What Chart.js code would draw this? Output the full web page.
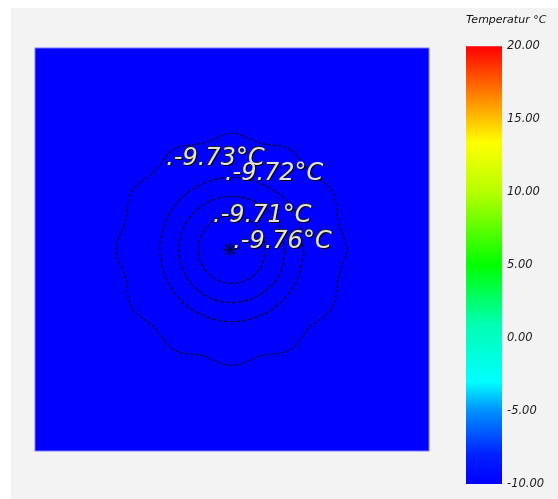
<!DOCTYPE html>
<html>
<head>
<meta charset="utf-8">
<script src="https://cdn.jsdelivr.net/npm/chart.js@4/dist/chart.umd.min.js"></script>
<style>
  html, body { margin: 0; padding: 0; background: #ffffff; width: 558px; height: 499px; overflow: hidden; }
  #bg { position: absolute; left: 11px; top: 8px; width: 547px; height: 491px; background: #f3f3f3; }
  #field { position: absolute; left: 0; top: 0; }
  #bar { position: absolute; left: 440px; top: 0; }
</style>
</head>
<body>
<div id="bg"></div>
<canvas id="field" width="558" height="499"></canvas>
<canvas id="bar" width="118" height="499"></canvas>
<script>
// ---- data (domain coordinates, 0..100 in both directions) ----
const fieldX = [0, 100];
const fieldY = [0, 100];
const fieldColor = '#0000ff';

const ring1X = [58.6, 57.4, 54.3, 50.0, 45.7, 42.6, 41.4, 42.6, 45.7, 50.0, 54.3, 57.4, 58.6];
const ring1Y = [50.0, 54.2, 57.3, 58.4, 57.3, 54.2, 50.0, 45.8, 42.7, 41.6, 42.7, 45.8, 50.0];

const ring2X = [63.5, 61.7, 56.7, 50.0, 43.3, 38.3, 36.5, 38.3, 43.3, 50.0, 56.7, 61.7, 63.5];
const ring2Y = [49.5, 56.6, 61.4, 63.2, 61.4, 56.6, 50.0, 43.4, 38.6, 36.8, 38.6, 43.2, 49.5];

const ring3X = [68.3, 66.0, 59.1, 50.0, 40.9, 34.2, 31.7, 34.2, 40.9, 50.0, 59.1, 65.8, 68.3];
const ring3Y = [49.0, 59.5, 65.5, 67.9, 65.5, 59.0, 50.0, 41.0, 34.5, 32.1, 34.5, 41.0, 49.0];

const ring4X = [79.4, 77.0, 75.5, 69.7, 64.7, 57.2, 50.0, 42.8, 35.3, 30.3, 24.5, 23.0, 20.6,
                23.0, 24.5, 30.3, 35.3, 42.8, 50.0, 57.2, 64.7, 69.7, 75.5, 77.0, 79.4];
const ring4Y = [50.0, 57.1, 64.4, 69.3, 74.9, 76.4, 78.8, 76.4, 74.9, 69.3, 64.4, 57.1, 50.0,
                42.9, 35.6, 30.7, 25.1, 23.6, 21.2, 23.6, 25.1, 30.7, 35.6, 42.9, 50.0];

const sourceX = [49.5];
const sourceY = [50.0];

const labelTexts = ['-9.73°C', '-9.72°C', '-9.71°C', '-9.76°C'];
const labelX = [33.8, 48.7, 45.7, 50.8];
const labelY = [71.0, 67.2, 56.8, 50.4];

const barRange = [-10, 20];
const tickValues = [-10, -5, 0, 5, 10, 15, 20];
const colorStops = [-10, -8, -5, -3, 1, 5, 10, 13.4, 20];
const stopColors = ['#0000ff', '#0020ff', '#0090ff', '#00ffff', '#00ffb0', '#00ff00', '#b6ff00', '#ffff00', '#ff0000'];
const legendTitle = 'Temperatur °C';

// ---- helpers ----
function pts(xs, ys) { return xs.map((x, i) => ({ x: x, y: ys[i] })); }

const contourStyle = {
  type: 'line', showLine: true, fill: false, pointRadius: 0, tension: 0.35,
  borderColor: 'rgba(5,5,45,0.95)', borderWidth: 1.2, borderDash: [4, 2]
};

const fieldPlugin = {
  id: 'fieldFill',
  beforeDatasetsDraw(chart) {
    const ctx = chart.ctx, xs = chart.scales.x, ys = chart.scales.y;
    const x0 = xs.getPixelForValue(fieldX[0]), x1 = xs.getPixelForValue(fieldX[1]);
    const y0 = ys.getPixelForValue(fieldY[1]), y1 = ys.getPixelForValue(fieldY[0]);
    ctx.save();
    ctx.fillStyle = '#7a7aff';
    ctx.fillRect(x0 - 0.5, y0 - 0.5, x1 - x0 + 1, y1 - y0 + 1);
    ctx.fillStyle = fieldColor;
    ctx.fillRect(x0 + 0.5, y0 + 0.5, x1 - x0 - 1, y1 - y0 - 1);
    ctx.restore();
  }
};

const labelPlugin = {
  id: 'contourLabels',
  afterDatasetsDraw(chart) {
    const ctx = chart.ctx, xs = chart.scales.x, ys = chart.scales.y;
    ctx.save();
    ctx.font = 'italic 200 24px "DejaVu Sans"';
    ctx.textBaseline = 'alphabetic';
    ctx.textAlign = 'left';
    labelTexts.forEach((t, i) => {
      const px = xs.getPixelForValue(labelX[i]) - 2;
      const py = ys.getPixelForValue(labelY[i]);
      const s = '.' + t;
      ctx.fillStyle = '#000000';
      ctx.fillText(s, px + 1, py + 1);
      ctx.fillStyle = '#222222';
      ctx.fillText(s, px - 0.6, py - 0.6);
      ctx.fillStyle = '#e2e2e2';
      ctx.fillText(s, px, py);
    });
    ctx.restore();
  }
};

new Chart(document.getElementById('field'), {
  type: 'scatter',
  data: {
    datasets: [
      Object.assign({ data: pts(ring4X, ring4Y) }, contourStyle, { borderDash: [3, 2] }),
      Object.assign({ data: pts(ring3X, ring3Y) }, contourStyle),
      Object.assign({ data: pts(ring2X, ring2Y) }, contourStyle),
      Object.assign({ data: pts(ring1X, ring1Y) }, contourStyle),
      { type: 'scatter', data: pts(sourceX, sourceY), pointStyle: 'star', pointRadius: 7,
        borderColor: 'rgba(5,5,45,0.9)', borderWidth: 1.5, backgroundColor: 'rgba(5,5,45,0.6)' }
    ]
  },
  options: {
    responsive: false, animation: false,
    layout: { padding: { left: 35, right: 129, top: 48, bottom: 48 } },
    scales: {
      x: { type: 'linear', min: 0, max: 100, display: false },
      y: { type: 'linear', min: 0, max: 100, display: false }
    },
    plugins: { legend: { display: false }, tooltip: { enabled: false } }
  },
  plugins: [fieldPlugin, labelPlugin]
});

const gradientPlugin = {
  id: 'grad',
  beforeDatasetsDraw(chart) {
    const ys = chart.scales.y;
    const top = ys.getPixelForValue(barRange[1]);
    const bot = ys.getPixelForValue(barRange[0]);
    const g = chart.ctx.createLinearGradient(0, bot, 0, top);
    colorStops.forEach((v, i) => {
      g.addColorStop((v - barRange[0]) / (barRange[1] - barRange[0]), stopColors[i]);
    });
    chart.data.datasets[0].backgroundColor = g;
    chart.getDatasetMeta(0).data.forEach(el => { el.options.backgroundColor = g; });
  }
};

new Chart(document.getElementById('bar'), {
  type: 'bar',
  data: {
    labels: [''],
    datasets: [{ data: [barRange], backgroundColor: '#0000ff', borderWidth: 0,
                 barPercentage: 1, categoryPercentage: 1 }]
  },
  options: {
    responsive: false, animation: false,
    layout: { padding: { left: 26, right: 0, top: 0, bottom: 15 } },
    scales: {
      x: { display: false },
      y: {
        position: 'right', min: barRange[0], max: barRange[1],
        afterBuildTicks(scale) { scale.ticks = tickValues.map(v => ({ value: v })); },
        afterFit(scale) { scale.width = 56; },
        grid: { display: false, drawTicks: false }, border: { display: false },
        ticks: {
          padding: 5, color: '#1e1e1e',
          font: { family: '"DejaVu Sans"', size: 11.5, style: 'italic' },
          callback: v => Number(v).toFixed(2)
        }
      }
    },
    plugins: {
      legend: { display: false }, tooltip: { enabled: false },
      title: {
        display: true, text: legendTitle, align: 'start', color: '#111111',
        font: { family: '"DejaVu Sans"', size: 11, style: 'italic', weight: 'normal' },
        padding: { top: 14, bottom: 19 }
      }
    }
  },
  plugins: [gradientPlugin]
});
</script>
</body>
</html>
